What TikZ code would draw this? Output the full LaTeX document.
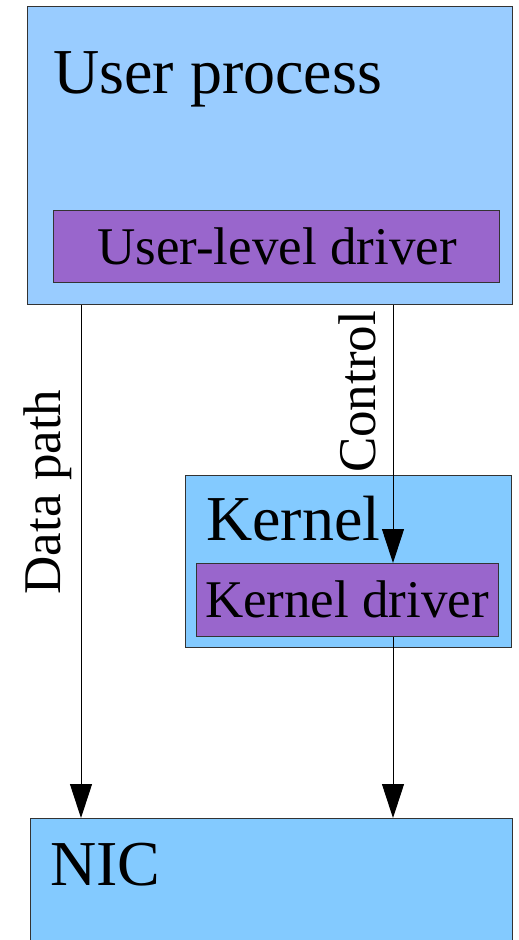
\documentclass[tikz,border=0pt]{standalone}
\usepackage{fontspec}
\setmainfont{Liberation Serif}
\usetikzlibrary{arrows.meta}
\definecolor{userblue}{HTML}{99CCFF}
\definecolor{kernblue}{HTML}{83CAFF}
\definecolor{drvpurple}{HTML}{9966CC}
\tikzset{
  box/.style={draw=black!80, line width=1pt, rectangle, inner sep=0pt, anchor=north west},
  bigtext/.style={font=\fontsize{64}{70}\selectfont, inner sep=0pt, anchor=base west},
  smalltext/.style={font=\fontsize{53}{60}\selectfont, inner sep=0pt},
  arr/.style={line width=1pt, -{Triangle[length=34pt, width=22pt]}},
  plain/.style={line width=1pt}
}
\begin{document}
\begin{tikzpicture}[x=1pt, y=-1pt]
\clip (0,0) rectangle (519,940);
\fill[white] (0,0) rectangle (519,940);
% boxes
\node[box, fill=userblue, minimum width=485pt, minimum height=298pt] (user) at (27,6) {};
\node[box, fill=drvpurple, minimum width=446pt, minimum height=72pt] (uld) at (53,210) {};
\node[box, fill=kernblue, minimum width=326pt, minimum height=172pt] (kern) at (185,475) {};
\node[box, fill=drvpurple, minimum width=302pt, minimum height=73pt] (kd) at (196,563) {};
\node[box, fill=kernblue, minimum width=482pt, minimum height=160pt] (nic) at (30,818) {};
% texts
\node[bigtext] (tuser) at (53,93) {User process};
\node[smalltext, anchor=base] (tuld) at (277,264) {User-level driver};
\node[bigtext] (tkern) at (206,540) {Kernel};
\node[smalltext, anchor=base] (tkd) at (347,617) {Kernel driver};
\node[bigtext] (tnic) at (50,885) {NIC};
\node[smalltext, rotate=90, anchor=base] (tdp) at (60,492) {Data path};
\node[smalltext, rotate=90, anchor=base] (tct) at (375,392) {Control};
% connectors
\coordinate (dpx) at (81,0);
\coordinate (ctx) at (393,0);
\draw[arr] (dpx |- user.south) -- (dpx |- nic.north);
\draw[arr] (ctx |- user.south) -- (ctx |- kd.north);
\draw[arr] (ctx |- kd.south) -- (ctx |- nic.north);
\end{tikzpicture}
\end{document}
